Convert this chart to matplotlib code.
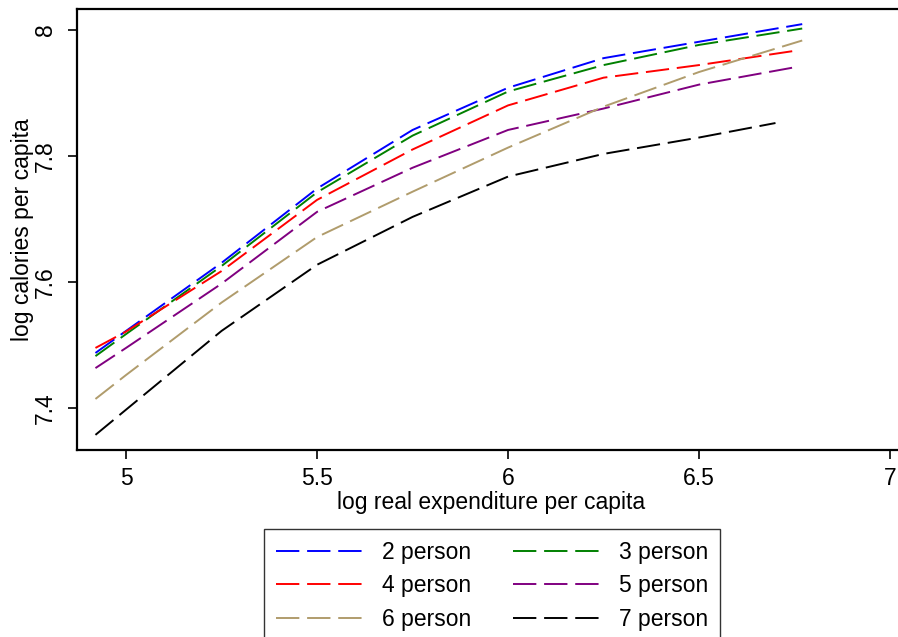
import matplotlib
matplotlib.use("Agg")
import matplotlib.pyplot as plt

plt.rcParams['font.family'] = ['Liberation Sans', 'DejaVu Sans']

x_common = [4.92, 5.0, 5.25, 5.5, 5.75, 6.0, 6.25, 6.5]
p2_x = x_common + [6.77]
p2_y = [7.487, 7.522, 7.630, 7.748, 7.841, 7.908, 7.955, 7.981, 8.009]
p3_x = x_common + [6.77]
p3_y = [7.482, 7.517, 7.625, 7.742, 7.832, 7.902, 7.944, 7.976, 8.002]
p4_x = x_common + [6.755]
p4_y = [7.495, 7.521, 7.617, 7.730, 7.810, 7.880, 7.924, 7.944, 7.967]
p5_x = x_common + [6.755]
p5_y = [7.463, 7.495, 7.597, 7.711, 7.781, 7.841, 7.875, 7.913, 7.941]
p6_x = x_common + [6.77]
p6_y = [7.414, 7.452, 7.567, 7.671, 7.743, 7.813, 7.878, 7.933, 7.983]
p7_x = x_common + [6.70]
p7_y = [7.357, 7.397, 7.522, 7.627, 7.703, 7.767, 7.803, 7.829, 7.852]

labels = ["2 person", "3 person", "4 person", "5 person", "6 person", "7 person"]
colors = ["#0000ff", "#008000", "#ff0000", "#800080", "#b09c6c", "#000000"]
xs = [p2_x, p3_x, p4_x, p5_x, p6_x, p7_x]
ys = [p2_y, p3_y, p4_y, p5_y, p6_y, p7_y]

xticks = [5, 5.5, 6, 6.5, 7]
xticklabels = ["5", "5.5", "6", "6.5", "7"]
yticks = [7.4, 7.6, 7.8, 8.0]
yticklabels = ["7.4", "7.6", "7.8", "8"]

FS = 16.5
fig = plt.figure(figsize=(8.98, 6.37), dpi=100)
ax = fig.add_axes([77/898, 1-450/637, 828/898, 441/637])

handles = []
for x, y, c, l in zip(xs, ys, colors, labels):
    h, = ax.plot(x, y, color=c, lw=1.4, dashes=(12, 4), label=l)
    handles.append(h)

ax.set_xlim(4.8717, 7.039)
ax.set_ylim(7.333, 8.033)
ax.set_xticks(xticks)
ax.set_xticklabels(xticklabels)
ax.set_yticks(yticks)
ax.set_yticklabels(yticklabels, rotation=90, va='center')
ax.tick_params(axis='both', length=6.5, width=1.2, labelsize=FS, pad=8, direction='out')
ax.tick_params(axis='x', pad=6)
for s in ax.spines.values():
    s.set_linewidth(1.6)
    s.set_color('black')

ax.set_xlabel("log real expenditure per capita", fontsize=FS, labelpad=0.5)
ax.set_ylabel("log calories per capita", fontsize=FS, labelpad=0)

# legend filled row-wise: reorder for matplotlib's column-major fill
order = [0, 2, 4, 1, 3, 5]
leg = fig.legend([handles[i] for i in order], [labels[i] for i in order],
                 loc='upper center', bbox_to_anchor=(492/898, 1-518/637), ncol=2,
                 fontsize=FS, frameon=True, fancybox=False, edgecolor='black',
                 handlelength=3.9, handletextpad=0.75, columnspacing=1.8,
                 labelspacing=0.45, borderpad=0.5)
leg.get_frame().set_linewidth(1.0)

fig.savefig("out.png", dpi=100)
